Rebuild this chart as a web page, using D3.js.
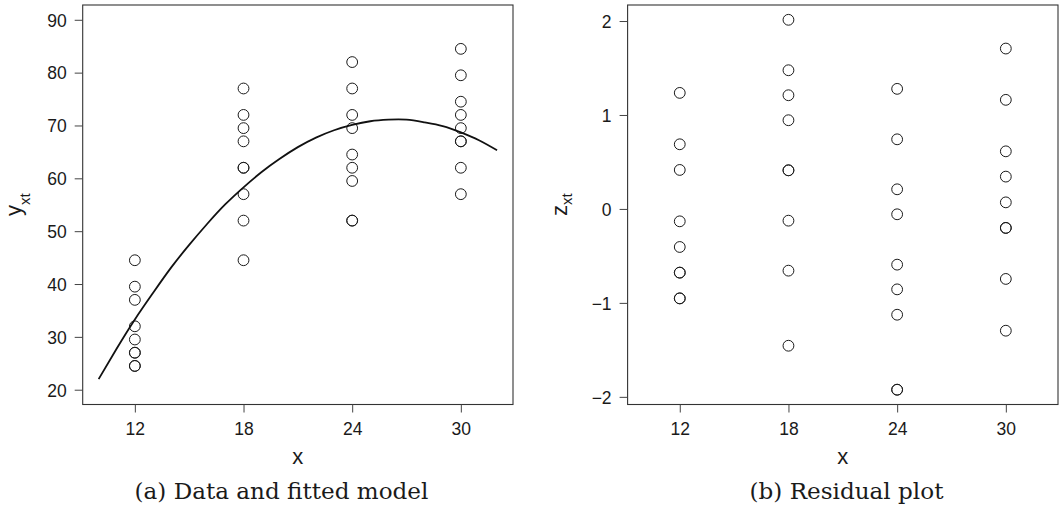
<!DOCTYPE html>
<html>
<head>
<meta charset="utf-8">
<script src="https://cdn.jsdelivr.net/npm/d3@7"></script>
<style>
  html, body { margin: 0; padding: 0; background: #fff; }
  svg { display: block; }
  text { font-family: "Liberation Sans", Arial, Helvetica, sans-serif; fill: #1a1a1a; }
  .cap { font-family: "DejaVu Serif", "Liberation Serif", serif; }
</style>
</head>
<body>
<svg id="chart" width="1059" height="509"></svg>
<script>
// ---------- data ----------
const xLevels = [12, 18, 24, 30];
const xTicks = [12, 18, 24, 30];
const xLim = [10, 32];

// panel (a): observed y_xt at each x
const y12 = [44.5, 39.5, 37, 32, 29.5, 27, 27, 24.5, 24.5];
const y18 = [77, 72, 69.5, 67, 62, 62, 57, 52, 44.5];
const y24 = [82, 77, 72, 69.5, 64.5, 62, 59.5, 52, 52];
const y30 = [84.5, 79.5, 74.5, 72, 69.5, 67, 67, 62, 57];
const yTicks = [20, 30, 40, 50, 60, 70, 80, 90];
const yLim = [20, 90];

// fitted model curve
const curveX = [10, 11, 12, 13, 14, 15, 16, 17, 18, 19, 20, 21, 22, 23, 24, 25, 26, 27, 28, 29, 30, 31, 32];
const curveY = [22.0, 27.8, 33.3, 38.3, 43.1, 47.4, 51.4, 55.1, 58.3, 61.2, 63.7, 65.9, 67.7, 69.1, 70.1, 70.8, 71.1, 71.1, 70.6, 69.9, 68.7, 67.2, 65.3];

// panel (b): residuals z_xt at each x
const z12 = [1.235, 0.688, 0.415, -0.132, -0.405, -0.678, -0.678, -0.952, -0.952];
const z18 = [2.013, 1.476, 1.21, 0.944, 0.411, 0.411, -0.125, -0.657, -1.456];
const z24 = [1.278, 0.741, 0.209, -0.057, -0.593, -0.856, -1.126, -1.924, -1.924];
const z30 = [1.707, 1.161, 0.613, 0.344, 0.070, -0.202, -0.202, -0.745, -1.296];
const zTicks = [-2, -1, 0, 1, 2];

const captionA = "(a) Data and fitted model";
const captionB = "(b) Residual plot";

// ---------- helpers ----------
const svg = d3.select("#chart");
const pad = ([a, b]) => { const r = b - a; return [a - 0.04 * r, b + 0.04 * r]; };
const minus = v => (v < 0 ? "\u2212" + Math.abs(v) : String(v));

const plotTop = 5, plotBottom = 404.5;
const tickLen = 8;
const tickFont = 17.5, labFont = 22, subFont = 15;

function panel(opts) {
  const g = svg.append("g");
  const x = d3.scaleLinear().domain(pad(xLim)).range([opts.x0, opts.x1]);
  const y = d3.scaleLinear().domain(pad(opts.yDomain)).range([plotBottom, plotTop]);

  // box
  g.append("rect")
    .attr("x", opts.x0).attr("y", plotTop)
    .attr("width", opts.x1 - opts.x0).attr("height", plotBottom - plotTop)
    .attr("fill", "none").attr("stroke", "#333").attr("stroke-width", 1.1);

  // x axis
  const xa = g.append("g").attr("transform", `translate(0,${plotBottom})`)
    .call(d3.axisBottom(x).tickValues(xTicks).tickSize(tickLen).tickPadding(6).tickFormat(d3.format("d")));
  xa.select(".domain").remove();
  xa.selectAll(".tick line").attr("stroke", "#444");
  xa.selectAll(".tick text").attr("font-size", tickFont).attr("dy", null).attr("y", 30)
    .attr("fill", "#1a1a1a").style("font-family", "Liberation Sans, Arial, sans-serif");

  // y axis
  const ya = g.append("g").attr("transform", `translate(${opts.x0},0)`)
    .call(d3.axisLeft(y).tickValues(opts.yTicks).tickSize(tickLen).tickPadding(8).tickFormat(minus));
  ya.select(".domain").remove();
  ya.selectAll(".tick line").attr("stroke", "#444");
  ya.selectAll(".tick text").attr("font-size", tickFont).attr("dy", "0.36em")
    .attr("fill", "#1a1a1a").style("font-family", "Liberation Sans, Arial, sans-serif");

  // axis titles
  g.append("text")
    .attr("x", (opts.x0 + opts.x1) / 2).attr("y", 464)
    .attr("text-anchor", "middle").attr("font-size", labFont).text("x");

  const yl = g.append("text")
    .attr("transform", `translate(${opts.x0 - opts.labOff},${(plotTop + plotBottom) / 2}) rotate(-90)`)
    .attr("text-anchor", "middle").attr("font-size", labFont);
  yl.append("tspan").text(opts.yLabel);
  yl.append("tspan").attr("font-size", subFont).attr("dy", opts.subShift).text("xt");

  return { g, x, y };
}

// ---------- panel (a) ----------
const A = panel({ x0: 82.7, x1: 513, yDomain: yLim, yTicks: yTicks, yLabel: "y", labOff: 62, subShift: 9 });
const dataA = [y12, y18, y24, y30].flatMap((arr, i) => arr.map(v => ({ x: xLevels[i], y: v })));
A.g.append("g").selectAll("circle").data(dataA).join("circle")
  .attr("cx", d => A.x(d.x)).attr("cy", d => A.y(d.y)).attr("r", 5.4)
  .attr("fill", "none").attr("stroke", "#1a1a1a").attr("stroke-width", 1);
A.g.append("path")
  .datum(curveX.map((cx, i) => [cx, curveY[i]]))
  .attr("fill", "none").attr("stroke", "#111").attr("stroke-width", 1.8)
  .attr("d", d3.line().x(d => A.x(d[0])).y(d => A.y(d[1])).curve(d3.curveNatural));

// ---------- panel (b) ----------
const zAll = [z12, z18, z24, z30].flat();
const B = panel({ x0: 627.6, x1: 1058, yDomain: d3.extent(zAll), yTicks: zTicks, yLabel: "z", labOff: 60.6, subShift: 4.7 });
const dataB = [z12, z18, z24, z30].flatMap((arr, i) => arr.map(v => ({ x: xLevels[i], y: v })));
B.g.append("g").selectAll("circle").data(dataB).join("circle")
  .attr("cx", d => B.x(d.x)).attr("cy", d => B.y(d.y)).attr("r", 5.4)
  .attr("fill", "none").attr("stroke", "#1a1a1a").attr("stroke-width", 1);

// ---------- captions ----------
function caption(txt, cx) {
  return svg.append("text").attr("class", "cap")
    .attr("x", cx).attr("y", 499.3).attr("text-anchor", "middle")
    .attr("font-size", 20).text(txt);
}
const ca = caption(captionA, 281.5);
const w = ca.node().getComputedTextLength();
const fs = 20 * 294 / w;
ca.attr("font-size", fs);
caption(captionB, 846.5).attr("font-size", fs);
</script>
</body>
</html>
